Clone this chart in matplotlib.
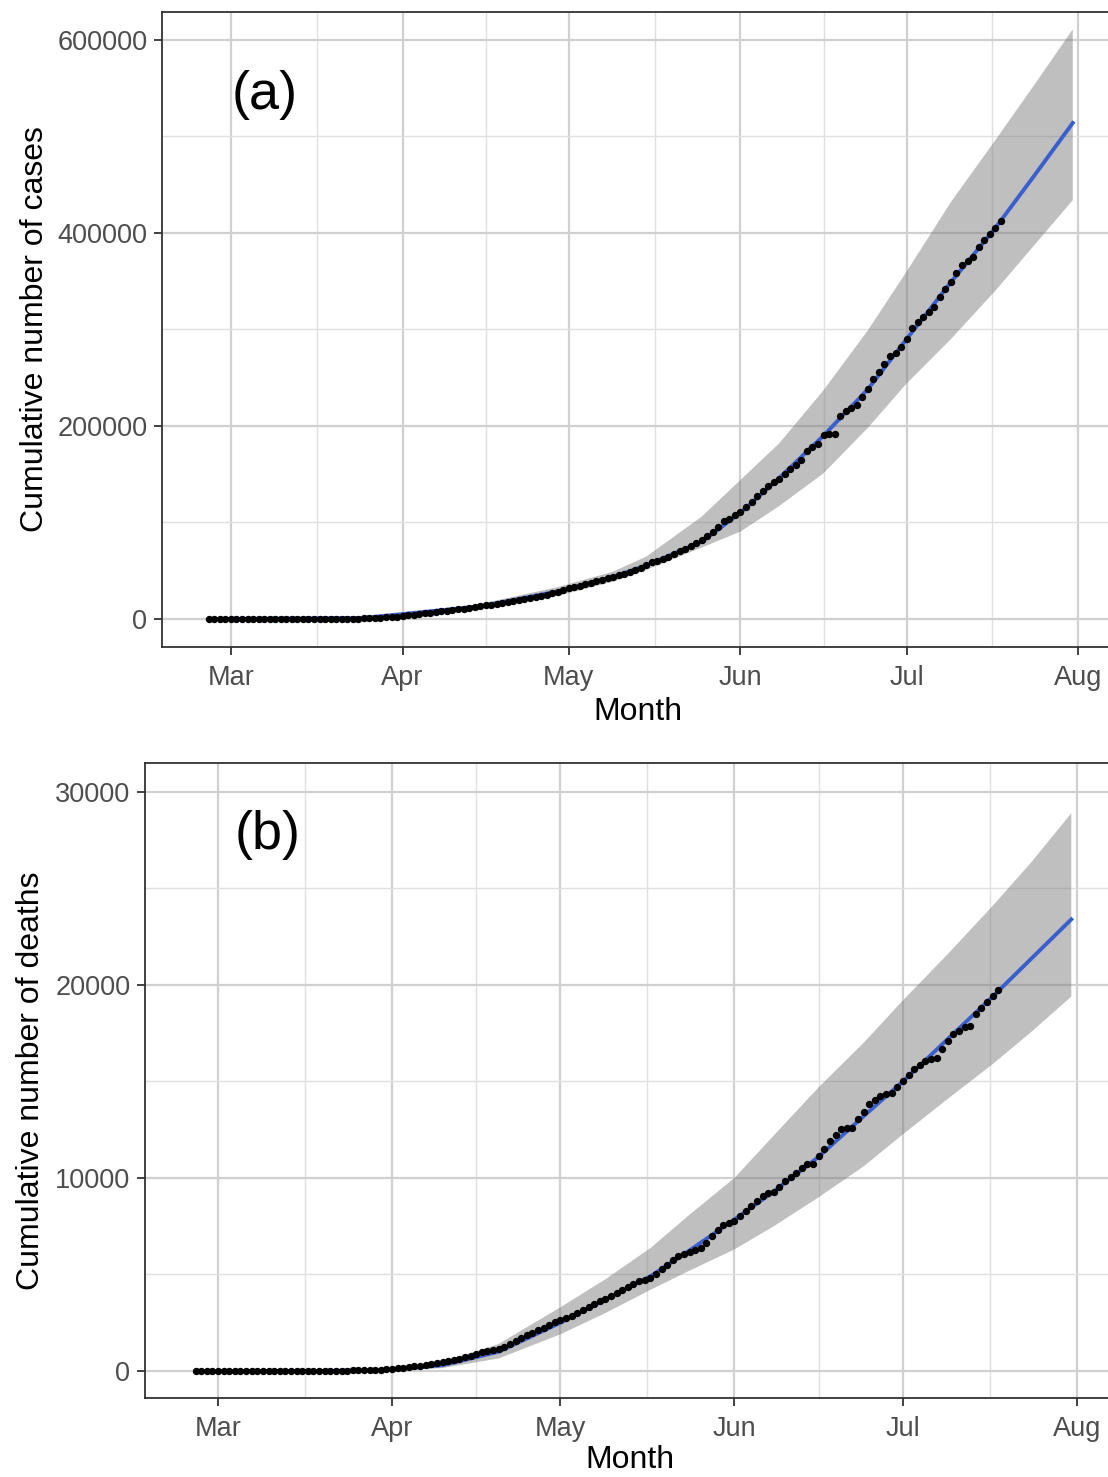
import numpy as np
import pandas as pd
import matplotlib
matplotlib.use('Agg')
import matplotlib.pyplot as plt
import matplotlib.dates as mdates

plt.rcParams['font.family'] = ['Liberation Sans', 'DejaVu Sans']

# observed daily cumulative counts, 26 Feb - 18 Jul
obs_dates = pd.date_range('2020-02-26', '2020-07-18', freq='D')
cases = [
    1, 1, 1, 2,
    2, 2, 2, 3, 4, 5, 7, 9, 12, 15, 18, 22, 28, 35, 45, 60, 80, 100, 130, 170,
    210, 260, 330, 400, 600, 800, 1000, 1300, 1600, 2000, 2500,
    3000, 3700, 4400, 5100, 5800, 6500, 7200, 7900, 8600, 9300, 10000, 10600,
    11300, 12000, 13000, 14000, 14800, 15600, 16500, 17400, 18300, 19300, 20300,
    21500, 22800, 24000, 25300, 26800, 28300, 30000,
    32000, 33000, 34000, 35800, 37500, 39200, 40500, 42000, 43800, 45500, 47000,
    48500, 50500, 53000, 56000, 58500, 60500, 62500, 64500, 67000, 70000, 72500,
    75500, 78500, 82000, 85500, 90000, 95500, 101000, 104000, 107500,
    110500, 116000, 121500, 127000, 132500, 138000, 141500, 145000, 150000, 155000,
    160000, 165000, 174000, 178000, 181000, 190500, 191500, 192000, 210500, 215000,
    219000, 222000, 229500, 238000, 248500, 256000, 264000, 272000, 276000, 281500,
    290000, 302000, 308000, 313000, 318000, 323000, 333500, 342000, 349000, 358500,
    366500, 371000, 375000, 385500, 392500, 399000, 405000, 412500,
]
deaths = [
    0, 0, 0, 0,
    0, 0, 0, 0, 0, 0, 0, 0, 0, 0, 1, 1, 2, 2, 3, 4, 5, 6, 8, 10,
    12, 15, 18, 22, 27, 33, 40, 50, 60, 75, 90,
    110, 140, 170, 200, 240, 280, 330, 380, 430, 480, 530, 580, 640, 700, 780,
    870, 960, 1050, 1080, 1120, 1250, 1400, 1550, 1700, 1850, 1980, 2100, 2250,
    2400, 2550,
    2650, 2750, 2850, 3000, 3150, 3300, 3450, 3600, 3750, 3900, 4050, 4200, 4350,
    4500, 4650, 4700, 4800, 5050, 5300, 5500, 5750, 5950, 6050, 6150, 6250, 6360,
    6650, 6970, 7300, 7580, 7670,
    7750, 8010, 8280, 8530, 8800, 9050, 9230, 9270, 9550, 9830, 10050, 10270,
    10500, 10700, 10750, 11130, 11500, 11920, 12250, 12520, 12580, 12610, 13040,
    13430, 13820, 14050, 14250, 14330, 14380, 14700,
    15040, 15340, 15640, 15860, 16080, 16140, 16200, 16680, 17080, 17470, 17640,
    17810, 17900, 18500, 18800, 19110, 19420, 19720,
]

# fitted curve and 95% band (read at selected dates)
cases_band_dates = pd.to_datetime([
    '2020-02-26', '2020-03-25', '2020-04-15', '2020-04-29', '2020-05-09',
    '2020-05-15', '2020-05-25', '2020-06-01', '2020-06-08', '2020-06-16',
    '2020-06-24', '2020-07-01', '2020-07-09', '2020-07-17', '2020-07-24',
    '2020-07-31'])
cases_fit = [0, 1100, 13000, 28500, 43500, 55500, 80000, 110000, 146000, 190000,
             238000, 290000, 349000, 405000, 459000, 514000]
cases_upper = [0, 1500, 15500, 33000, 49000, 64600, 106000, 144000, 182000,
               237000, 299000, 360000, 432000, 496000, 553000, 611000]
cases_lower = [0, 800, 11500, 24000, 38600, 50800, 74000, 90500, 117000, 151000,
               198000, 244000, 290000, 340000, 387000, 434000]

deaths_band_dates = pd.to_datetime([
    '2020-02-26', '2020-03-20', '2020-04-01', '2020-04-10', '2020-04-20',
    '2020-05-01', '2020-05-09', '2020-05-17', '2020-05-24', '2020-06-01',
    '2020-06-08', '2020-06-16', '2020-06-24', '2020-07-01', '2020-07-09',
    '2020-07-17', '2020-07-24', '2020-07-31'])
deaths_fit = [0, 5, 60, 300, 1000, 2500, 3700, 4900, 6250, 7850, 9300, 11100,
              13200, 15000, 17200, 19400, 21400, 23400]
deaths_upper = [0, 10, 150, 450, 1400, 3300, 4750, 6360, 8100, 10000, 12200,
                14700, 17000, 19200, 21600, 24100, 26400, 28900]
deaths_lower = [0, 0, 30, 150, 650, 1900, 3000, 4200, 5200, 6300, 7500, 9000,
                10600, 12260, 14100, 15900, 17600, 19400]

month_ticks = pd.to_datetime(['2020-03-01', '2020-04-01', '2020-05-01',
                              '2020-06-01', '2020-07-01', '2020-08-01'])
month_labels = ['Mar', 'Apr', 'May', 'Jun', 'Jul', 'Aug']

fig = plt.figure(figsize=(11.08, 14.77), dpi=100)
ax1 = fig.add_axes([0.1462, 0.5620, 0.860, 0.4299])
ax2 = fig.add_axes([0.1309, 0.05349, 0.8755, 0.4299])

mar1 = mdates.date2num(pd.Timestamp('2020-03-01'))
tick_num = mdates.date2num(month_ticks)
minor_num = (tick_num[:-1] + tick_num[1:]) / 2


def panel(ax, x0, x1, ylim, yticks, yminor, band_dates, fit, up, lo, obs,
          ylabel, tag, ylab_x, tag_xy):
    ax.set_facecolor('white')
    ax.set_xlim(mar1 + x0, mar1 + x1)
    ax.set_ylim(*ylim)
    ax.set_xticks(tick_num)
    ax.set_xticklabels(month_labels)
    ax.set_xticks(minor_num, minor=True)
    ax.set_yticks(yticks)
    ax.set_yticklabels([str(v) for v in yticks])
    ax.set_yticks(yminor, minor=True)
    ax.grid(True, which='major', color='#D0D0D0', lw=1.6)
    ax.grid(True, which='minor', color='#E0E0E0', lw=1.0)
    ax.set_axisbelow(True)
    ax.tick_params(which='major', length=5.5, width=1.3, color='#333333',
                   labelsize=19.5, labelcolor='#4D4D4D')
    ax.tick_params(axis='x', which='major', pad=7.5)
    ax.tick_params(axis='y', which='major', pad=5)
    ax.tick_params(which='minor', length=0)
    for s in ax.spines.values():
        s.set_color('#333333')
        s.set_linewidth(1.3)

    bx = mdates.date2num(band_dates)
    ax.fill(np.concatenate([bx, bx[::-1]]),
            np.concatenate([up, lo[::-1]]),
            color='#808080', alpha=0.5, lw=0, zorder=2)
    ax.plot(bx, fit, color='#3A5FCD', lw=2.8, zorder=3)
    ax.scatter(mdates.date2num(obs_dates), obs, s=28, color='black', lw=0, zorder=4)

    ax.set_xlabel('Month', fontsize=23)
    ax.xaxis.set_label_coords(0.5, -0.102)
    ax.xaxis.label.set_va('center')
    ax.set_ylabel(ylabel, fontsize=23)
    ax.yaxis.set_label_coords(ylab_x, 0.5)
    ax.yaxis.label.set_va('center')
    ax.text(tag_xy[0], tag_xy[1], tag, transform=ax.transAxes, fontsize=39,
            ha='center', va='center')


panel(ax1, -12.45, 159.6, (-29000, 629000), [0, 200000, 400000, 600000],
      [100000, 300000, 500000], cases_band_dates, cases_fit,
      np.array(cases_upper), np.array(cases_lower), cases,
      'Cumulative number of cases', '(a)', -0.1335, (0.108, 0.869))
panel(ax2, -13.0, 159.8, (-1400, 31500), [0, 10000, 20000, 30000],
      [5000, 15000, 25000], deaths_band_dates, deaths_fit,
      np.array(deaths_upper), np.array(deaths_lower), deaths,
      'Cumulative number of deaths', '(b)', -0.1176, (0.126, 0.887))
ax2.xaxis.set_label_coords(0.5, -0.0976)

fig.savefig('out.png', dpi=100)
